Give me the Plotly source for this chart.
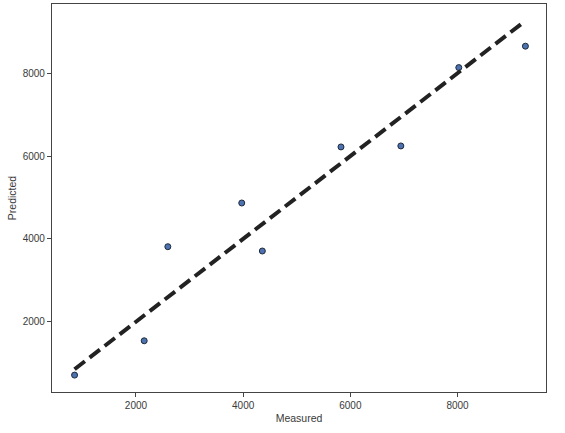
import plotly.graph_objects as go

measured = [855, 2154, 2595, 3974, 4358, 5825, 6942, 8023, 9266]
predicted = [713, 1541, 3812, 4867, 3708, 6220, 6244, 8135, 8652]
x_ticks = [2000, 4000, 6000, 8000]
y_ticks = [2000, 4000, 6000, 8000]

lo, hi = min(measured), max(measured)

fig = go.Figure()
fig.add_trace(go.Scatter(
    x=measured, y=predicted, mode="markers",
    marker=dict(size=6, color="#4C72B0", line=dict(color="#1f2a3a", width=1)),
    showlegend=False,
))
fig.add_trace(go.Scatter(
    x=[lo, hi], y=[lo, hi], mode="lines",
    line=dict(color="#222222", width=4, dash="13px,6px"),
    showlegend=False,
))

font_family = "Liberation Sans, Arial, sans-serif"
axis_common = dict(
    showgrid=False, zeroline=False, showline=True, mirror=True,
    linecolor="#444444", linewidth=1.25, automargin=False,
    ticks="outside", ticklen=4, tickwidth=1.2, tickcolor="#444444",
    tickfont=dict(size=10, color="#3a3a3a", family=font_family),
)
fig.update_xaxes(range=[434, 9650], tickvals=x_ticks,
                 title=dict(text="Measured", font=dict(size=10.5, color="#3a3a3a", family=font_family), standoff=4),
                 **axis_common)
fig.update_yaxes(range=[305, 9670], tickvals=y_ticks,
                 title=dict(text="Predicted", font=dict(size=10.5, color="#3a3a3a", family=font_family), standoff=3),
                 **axis_common)
fig.update_layout(
    width=565, height=433,
    margin=dict(l=52, r=19, t=4, b=41, autoexpand=False),
    plot_bgcolor="white", paper_bgcolor="white",
    font=dict(family=font_family),
)
fig.write_html("out.html", config={"displayModeBar": False},
               post_script="document.body.style.margin='0';document.body.style.overflow='hidden';")
